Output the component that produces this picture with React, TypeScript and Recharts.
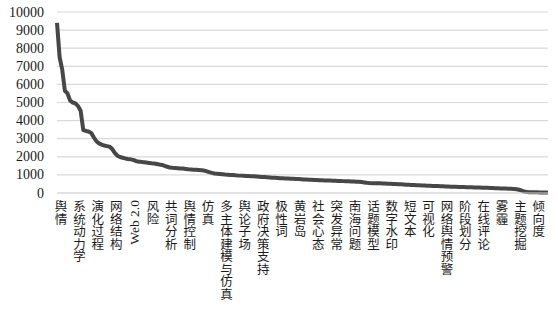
import React from 'react';
import { LineChart, Line, XAxis, YAxis, CartesianGrid } from 'recharts';

// Visible category labels (every 7th keyword on the axis)
const keywordLabels: string[] = [
  '舆情', '系统动力学', '演化过程', '网络结构', 'Web 2.0', '风险', '共词分析', '舆情控制', '仿真',
  '多主体建模与仿真', '舆论子场', '政府决策支持', '极性词', '黄岩岛', '社会心态', '突发异常', '南海问题',
  '话题模型', '数字水印', '短文本', '可视化', '网络舆情预警', '阶段划分', '在线评论', '雾霾', '主题挖掘', '倾向度',
];
const labelEvery = 7;

// Frequency per keyword, in rank order
const frequencies: number[] = [
  9400, 7500, 6800, 5650, 5500, 5100, 5000, 4950, 4800, 4550,
  3480, 3430, 3400, 3320, 3080, 2860, 2740, 2670, 2620, 2590,
  2560, 2440, 2220, 2060, 1990, 1950, 1910, 1880, 1860, 1830,
  1770, 1730, 1720, 1700, 1680, 1660, 1640, 1630, 1600, 1570,
  1550, 1500, 1450, 1410, 1390, 1380, 1370, 1360, 1350, 1330,
  1310, 1300, 1290, 1280, 1270, 1260, 1240, 1200, 1150, 1110,
  1080, 1065, 1050, 1035, 1020, 1010, 1000, 990, 975, 965,
  960, 952, 945, 938, 930, 920, 910, 900, 890, 878,
  866, 855, 845, 836, 828, 818, 810, 802, 795, 789,
  782, 775, 768, 760, 752, 745, 738, 731, 724, 716,
  709, 702, 696, 690, 685, 680, 674, 668, 662, 656,
  650, 645, 640, 634, 628, 620, 605, 585, 565, 552,
  545, 540, 537, 533, 528, 522, 515, 508, 500, 492,
  485, 478, 470, 462, 455, 448, 440, 434, 427, 420,
  413, 406, 399, 392, 386, 380, 374, 368, 362, 356,
  350, 345, 340, 335, 330, 325, 320, 316, 312, 308,
  304, 300, 296, 290, 284, 278, 272, 266, 260, 254,
  248, 242, 236, 230, 222, 210, 180, 130, 80, 50,
  40, 38, 36, 35, 34, 33, 32, 30,
];

const yTicks: number[] = [0, 1000, 2000, 3000, 4000, 5000, 6000, 7000, 8000, 9000, 10000];

const data = frequencies.map((v, i) => ({ idx: i, value: v }));

const SERIF = 'Liberation Serif';
const CJK = 'Noto Sans CJK SC';

const YTick = (props: any) => {
  const { x, y, payload } = props;
  return (
    <text x={x} y={y} textAnchor="end" dominantBaseline="central" fontFamily={SERIF} fontSize={14} fill="#1a1a1a">
      {payload.value}
    </text>
  );
};

const XTick = (props: any) => {
  const { x, y, payload } = props;
  const i = payload.value as number;
  if (i % labelEvery !== 0) return null;
  const label = keywordLabels[i / labelEvery] ?? '';
  const cx = x + 4;
  const top = y + 7;
  if (/^[\x00-\x7f]+$/.test(label)) {
    return (
      <text
        x={cx}
        y={top}
        transform={`rotate(-90 ${cx} ${top})`}
        textAnchor="end"
        dominantBaseline="central"
        fontFamily={SERIF}
        fontSize={13.5}
        fill="#1a1a1a"
      >
        {label}
      </text>
    );
  }
  return (
    <text
      x={cx}
      y={top}
      textAnchor="start"
      fontFamily={CJK}
      fontSize={12.5}
      fill="#1a1a1a"
      style={{ writingMode: 'vertical-rl' }}
    >
      {label}
    </text>
  );
};

export default function App() {
  return (
    <div style={{ position: 'absolute', left: 0, top: 0, width: 558, height: 320, background: '#fff' }}>
      <LineChart width={558} height={320} data={data} margin={{ top: 12, right: 10, left: 0, bottom: 0 }}>
        <CartesianGrid vertical={false} stroke="#d9d9d9" strokeWidth={1.2} />
        <XAxis
          dataKey="idx"
          type="category"
          interval={0}
          height={127}
          tick={<XTick />}
          tickLine={false}
          tickSize={0}
          tickMargin={0}
          axisLine={{ stroke: '#d9d9d9', strokeWidth: 1.2 }}
        />
        <YAxis
          width={57}
          domain={[0, 10000]}
          ticks={yTicks}
          interval={0}
          axisLine={false}
          tickLine={false}
          tickSize={0}
          tickMargin={13}
          tick={<YTick />}
        />
        <Line
          type="linear"
          dataKey="value"
          stroke="#474747"
          strokeWidth={4}
          dot={false}
          isAnimationActive={false}
          strokeLinejoin="round"
        />
      </LineChart>
    </div>
  );
}
